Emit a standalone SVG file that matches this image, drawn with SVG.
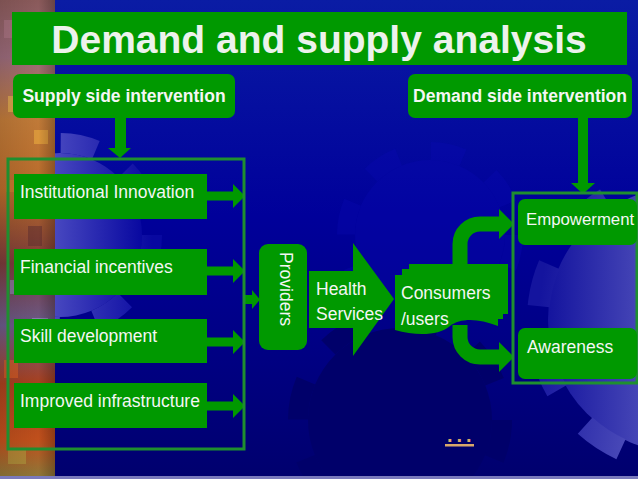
<svg xmlns="http://www.w3.org/2000/svg" width="638" height="479" viewBox="0 0 638 479">
<defs>
  <linearGradient id="bg" x1="0" y1="0" x2="0" y2="1">
    <stop offset="0" stop-color="#0a1ca4"/>
    <stop offset="0.45" stop-color="#00009a"/>
    <stop offset="1" stop-color="#00006e"/>
  </linearGradient>
  <linearGradient id="strip" x1="0" y1="0" x2="0" y2="1">
    <stop offset="0" stop-color="#8a5a5a"/>
    <stop offset="0.12" stop-color="#9a6a7a"/>
    <stop offset="0.25" stop-color="#c07a38"/>
    <stop offset="0.4" stop-color="#b86a2a"/>
    <stop offset="0.55" stop-color="#7a3a3a"/>
    <stop offset="0.68" stop-color="#6a5a8a"/>
    <stop offset="0.8" stop-color="#a8401e"/>
    <stop offset="0.92" stop-color="#c0501c"/>
    <stop offset="1" stop-color="#8a7a3a"/>
  </linearGradient>
  <linearGradient id="stripX" x1="0" y1="0" x2="1" y2="0">
    <stop offset="0" stop-color="#000" stop-opacity="0.1"/>
    <stop offset="0.7" stop-color="#000" stop-opacity="0"/>
    <stop offset="1" stop-color="#000" stop-opacity="0.25"/>
  </linearGradient>
  <linearGradient id="gearR" x1="0" y1="0" x2="1" y2="0">
    <stop offset="0" stop-color="#14149e"/>
    <stop offset="0.6" stop-color="#6a6ac8"/>
    <stop offset="1" stop-color="#7a7ad0"/>
  </linearGradient>
  <linearGradient id="gearL" x1="0" y1="0" x2="1" y2="0">
    <stop offset="0" stop-color="#8080dc"/>
    <stop offset="1" stop-color="#0808a0"/>
  </linearGradient>
  <style>
    .box{fill:#009900}
    .lbl{font-family:"Liberation Sans",Arial,sans-serif;font-size:17.5px;fill:#f4f6f4}
    .hdr{font-weight:bold}
    .frame{fill:none;stroke:#1f8f2f;stroke-width:3}
    .shaft{fill:none;stroke:#009900;stroke-width:15}
    .tile{opacity:0.55}
  </style>
</defs>

<!-- background -->
<rect x="0" y="0" width="638" height="479" fill="url(#bg)"/>
<g id="gear-left">
  <circle cx="60" cy="235" r="82" fill="url(#gearL)"/>
  <circle cx="60" cy="235" r="92" fill="none" stroke="url(#gearL)" stroke-width="20" stroke-dasharray="36 36.26"/>
</g>
<g id="gear-mid" opacity="0.3">
  <circle cx="430" cy="235" r="75" fill="#0a0ab4"/>
  <circle cx="430" cy="235" r="84" fill="none" stroke="#0a0ab4" stroke-width="18" stroke-dasharray="33 33"/>
</g>
<g id="gear-bottom">
  <circle cx="400" cy="420" r="92" fill="#00006a"/>
  <circle cx="400" cy="420" r="102" fill="none" stroke="#00006a" stroke-width="20" stroke-dasharray="40 40.1"/>
</g>
<g id="gear-right">
  <circle cx="680" cy="320" r="132" fill="url(#gearR)"/>
  <circle cx="680" cy="320" r="142" fill="none" stroke="url(#gearR)" stroke-width="22" stroke-dasharray="43 45" transform="rotate(8 680 320)"/>
</g>
<rect x="0" y="0" width="55" height="479" fill="url(#strip)"/>
<g id="mosaic">
  <rect x="4" y="20" width="14" height="18" fill="#b07a8a" class="tile"/>
  <rect x="30" y="48" width="16" height="12" fill="#e0a040" class="tile"/>
  <rect x="8" y="96" width="12" height="16" fill="#f0c050" class="tile"/>
  <rect x="34" y="130" width="14" height="14" fill="#f0b040" class="tile"/>
  <rect x="6" y="180" width="18" height="12" fill="#d08030" class="tile"/>
  <rect x="28" y="226" width="14" height="20" fill="#603030" class="tile"/>
  <rect x="10" y="280" width="16" height="14" fill="#9090c0" class="tile"/>
  <rect x="32" y="318" width="16" height="16" fill="#a0a0d0" class="tile"/>
  <rect x="4" y="360" width="14" height="18" fill="#e06020" class="tile"/>
  <rect x="30" y="410" width="16" height="14" fill="#f08030" class="tile"/>
  <rect x="8" y="450" width="18" height="14" fill="#b0a040" class="tile"/>
</g>
<rect x="0" y="0" width="55" height="479" fill="url(#stripX)"/>
<rect x="0" y="476" width="638" height="3" fill="#7a7abc"/>

<!-- connectors -->
<g id="connectors">
  <!-- supply down arrow -->
  <rect x="115" y="118" width="11" height="30" class="box"/>
  <polygon points="108,148 131,148 120,158" class="box"/>
  <!-- demand down arrow -->
  <rect x="578" y="118" width="10" height="65" class="box"/>
  <polygon points="571,183 595,183 583,194" class="box"/>
  <!-- box to frame arrows -->
  <rect x="207" y="191.5" width="27" height="9" class="box"/>
  <polygon points="233,184 245,196 233,208" class="box"/>
  <rect x="207" y="266.5" width="27" height="9" class="box"/>
  <polygon points="233,259 245,271 233,283" class="box"/>
  <rect x="207" y="337.5" width="27" height="9" class="box"/>
  <polygon points="233,330 245,342 233,354" class="box"/>
  <rect x="207" y="401.5" width="27" height="9" class="box"/>
  <polygon points="233,394 245,406 233,418" class="box"/>
  <!-- frame to providers -->
  <rect x="244" y="295" width="9" height="9" class="box"/>
  <polygon points="252,290 260,299.5 252,309" class="box"/>
  <!-- consumers to empowerment / awareness -->
  <path d="M460,268 V244 A20,20 0 0 1 480,224 H500" class="shaft"/>
  <polygon points="499,209 514,224 499,239" class="box"/>
  <path d="M460,325 V337 A20,20 0 0 0 480,357 H500" class="shaft"/>
  <polygon points="499,342 514,357 499,372" class="box"/>
</g>

<!-- nodes -->
<g id="title">
  <rect x="12" y="12" width="615" height="53" class="box"/>
  <text x="319" y="53" text-anchor="middle" font-family="Liberation Sans, Arial, sans-serif" font-size="39" font-weight="bold" fill="#ecf2ec">Demand and supply analysis</text>
</g>
<g id="supply-side">
  <rect x="13" y="74" width="222" height="44" rx="7" class="box"/>
  <text x="124" y="102" text-anchor="middle" class="lbl hdr">Supply side intervention</text>
</g>
<g id="demand-side">
  <rect x="408" y="74" width="224" height="44" rx="7" class="box"/>
  <text x="520" y="102" text-anchor="middle" class="lbl hdr">Demand side intervention</text>
</g>
<g id="supply-frame">
  <rect x="8" y="159" width="236" height="290" class="frame"/>
</g>
<g id="institutional-innovation">
  <rect x="14" y="174" width="193" height="45" class="box"/>
  <text x="20" y="198" class="lbl">Institutional Innovation</text>
</g>
<g id="financial-incentives">
  <rect x="14" y="249" width="193" height="46" class="box"/>
  <text x="20" y="273" class="lbl">Financial incentives</text>
</g>
<g id="skill-development">
  <rect x="14" y="319" width="193" height="44" class="box"/>
  <text x="20" y="342" class="lbl">Skill development</text>
</g>
<g id="improved-infrastructure">
  <rect x="14" y="383" width="193" height="45" class="box"/>
  <text x="20" y="407" class="lbl">Improved infrastructure</text>
</g>
<g id="providers">
  <rect x="259" y="244" width="48" height="106" rx="9" class="box"/>
  <text transform="translate(280,289) rotate(90)" text-anchor="middle" class="lbl">Providers</text>
</g>
<g id="health-services">
  <polygon points="309,271 353,271 353,243 394,299 353,356 353,328 309,328" class="box"/>
  <text x="316" y="295" class="lbl">Health</text>
  <text x="316" y="320" class="lbl">Services</text>
</g>
<g id="consumers">
  <rect x="409" y="264" width="99" height="50" class="box"/>
  <rect x="402" y="269" width="101" height="50" class="box"/>
  <path d="M395,275 H498 V326 C478,318 460,318 450,326 C438,336 416,336 395,330 Z" class="box"/>
  <text x="401" y="299" class="lbl">Consumers</text>
  <text x="401" y="325" class="lbl">/users</text>
</g>
<g id="demand-frame">
  <rect x="513" y="193" width="124" height="190" class="frame"/>
</g>
<g id="empowerment">
  <rect x="518" y="199" width="119" height="46" rx="7" class="box"/>
  <text x="526" y="225" class="lbl" style="font-size:16.8px">Empowerment</text>
</g>
<g id="awareness">
  <rect x="518" y="328" width="119" height="51" rx="7" class="box"/>
  <text x="527" y="353" class="lbl">Awareness</text>
</g>
<g id="more">
  <text x="447" y="442" font-family="Liberation Sans, Arial, sans-serif" font-size="20" font-weight="bold" letter-spacing="4" fill="#d9a86a">...</text>
  <rect x="445" y="444" width="29" height="2.5" fill="#d9a86a"/>
</g>
</svg>
